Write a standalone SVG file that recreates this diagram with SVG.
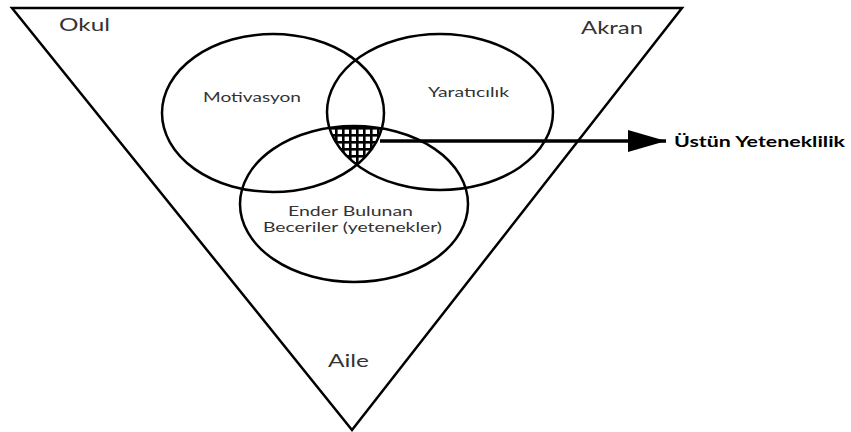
<svg xmlns="http://www.w3.org/2000/svg" width="851" height="432" viewBox="0 0 851 432">
<style>
.shape{fill:none;stroke:#000;stroke-width:2.5}
.lbl{font-family:Lato,"Open Sans","Liberation Sans",sans-serif;fill:#333}
.big{font-size:18px}
.mid{font-size:13px}
.out{font-family:Lato,"Open Sans","Liberation Sans",sans-serif;font-weight:bold;font-size:14.5px;fill:#000}
</style>
<defs>
<pattern id="grid" width="7" height="7" patternUnits="userSpaceOnUse" x="328" y="127">
<rect width="7" height="7" fill="#fff"/>
<rect width="7" height="2.6" fill="#000"/>
<rect width="2.6" height="7" fill="#000"/>
</pattern>
<clipPath id="cL"><ellipse cx="273" cy="113" rx="111" ry="79"/></clipPath>
<clipPath id="cR"><ellipse cx="440" cy="112" rx="113" ry="78"/></clipPath>
<clipPath id="cB"><ellipse cx="354" cy="204" rx="114" ry="78"/></clipPath>
<marker id="ah" markerUnits="userSpaceOnUse" markerWidth="40" markerHeight="24" refX="38" refY="11" orient="auto">
<polygon points="0,0 38,11 0,22" fill="#000"/>
</marker>
</defs>
<g id="triangle">
<polygon class="shape" points="12,8 682,8 352,430"/>
<text class="lbl big" x="59" y="31" textLength="51" lengthAdjust="spacingAndGlyphs">Okul</text>
<text class="lbl big" x="581" y="34" textLength="62" lengthAdjust="spacingAndGlyphs">Akran</text>
<text class="lbl big" x="328" y="367" textLength="41" lengthAdjust="spacingAndGlyphs">Aile</text>
</g>
<g id="intersection">
<g clip-path="url(#cL)"><g clip-path="url(#cR)"><g clip-path="url(#cB)">
<rect x="320" y="120" width="80" height="60" fill="url(#grid)"/>
</g></g></g>
</g>
<g id="motivasyon">
<ellipse class="shape" cx="273" cy="113" rx="111" ry="79"/>
<text class="lbl mid" x="203" y="102" textLength="98" lengthAdjust="spacingAndGlyphs">Motivasyon</text>
</g>
<g id="yaraticilik">
<ellipse class="shape" cx="440" cy="112" rx="113" ry="78"/>
<text class="lbl mid" x="428" y="97" textLength="81" lengthAdjust="spacingAndGlyphs">Yaratıcılık</text>
</g>
<g id="ender">
<ellipse class="shape" cx="354" cy="204" rx="114" ry="78"/>
<text class="lbl mid" x="288" y="216" textLength="125" lengthAdjust="spacingAndGlyphs">Ender Bulunan</text>
<text class="lbl mid" x="263" y="232" textLength="179" lengthAdjust="spacingAndGlyphs">Beceriler (yetenekler)</text>
</g>
<g id="connectors">
<line x1="380" y1="141" x2="666" y2="141" stroke="#000" stroke-width="3.5" marker-end="url(#ah)"/>
</g>
<g id="ustun">
<text class="out" x="674" y="147" textLength="171" lengthAdjust="spacingAndGlyphs">Üstün Yeteneklilik</text>
</g>
</svg>
